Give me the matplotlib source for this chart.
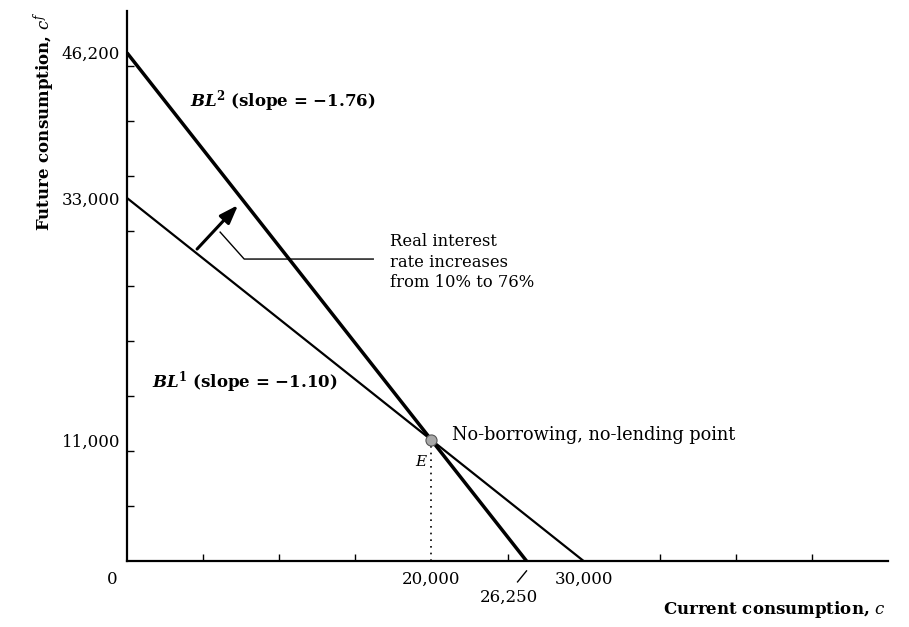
import matplotlib
matplotlib.use("Agg")
import matplotlib.pyplot as plt
import matplotlib.transforms as mtransforms

# ---- data ----
bl1_x = [0, 30000]
bl1_y = [33000, 0]
bl2_x = [0, 26250]
bl2_y = [46200, 0]
point_E = (20000, 11000)
ytick_vals = [0, 11000, 33000, 46200]
ytick_labels = ["0", "11,000", "33,000", "46,200"]
xtick_vals = [20000, 30000]
xtick_labels = ["20,000", "30,000"]
minor_ticks = list(range(5000, 50000, 5000))

plt.rcParams['font.family'] = ['DejaVu Serif']
plt.rcParams['mathtext.fontset'] = 'dejavuserif'

fig = plt.figure(figsize=(9.09, 6.27), dpi=100)
ax = fig.add_axes([127/909, 66/627, (888-127)/909, (561-11)/627])
ax.set_xlim(0, 50000)
ax.set_ylim(0, 50000)

for s in ['top', 'right']:
    ax.spines[s].set_visible(False)
for s in ['left', 'bottom']:
    ax.spines[s].set_linewidth(1.6)

ax.plot(bl1_x, bl1_y, color='black', lw=1.6, solid_capstyle='butt')
ax.plot(bl2_x, bl2_y, color='black', lw=2.5, solid_capstyle='butt')
ax.plot([point_E[0], point_E[0]], [0, point_E[1]], color='black', lw=1.2,
        linestyle=(0, (1, 3)))
ax.plot([point_E[0]], [point_E[1]], marker='o', markersize=8,
        markerfacecolor='#a8a8a8', markeredgecolor='#555555', markeredgewidth=0.8, zorder=5)

# ticks
ax.set_yticks(ytick_vals)
ax.set_yticklabels(ytick_labels, fontsize=12)
ax.set_xticks(xtick_vals)
ax.set_xticklabels(xtick_labels, fontsize=12)
ax.tick_params(axis='both', which='major', length=0, pad=7)
ax.tick_params(axis='y', which='major', pad=5)
ax.set_xticks(minor_ticks, minor=True)
ax.set_yticks(minor_ticks, minor=True)
ax.tick_params(axis='both', which='minor', direction='in', length=5, width=1)
for lab in ax.get_yticklabels():
    if lab.get_text() == "0":
        lab.set_transform(lab.get_transform() + mtransforms.ScaledTranslation(-3/100, -16/100, fig.dpi_scale_trans))

# 26,250 label with slash
ax.text(25070, -3300, "26,250", fontsize=12, ha='center', va='center', clip_on=False)
ax.plot([25660, 26250], [-1900, -900], color='black', lw=1, clip_on=False)

# axis labels
fig.text(886/909, 1 - 610/627, r"Current consumption, $\mathit{c}$", fontsize=12,
         fontweight='bold', ha='right', va='center')
fig.text(44/909, 1 - 121/627, r"Future consumption, $\mathit{c^f}$", fontsize=12,
         fontweight='bold', ha='center', va='center', rotation=90)

# line labels
ax.text(4140, 41800, r"$\mathbfit{BL}^{\mathbf{2}}$" + " (slope = \u22121.76)", fontsize=12,
        fontweight='bold', ha='left', va='center')
ax.text(1650, 16270, r"$\mathbfit{BL}^{\mathbf{1}}$" + " (slope = \u22121.10)", fontsize=12,
        fontweight='bold', ha='left', va='center')

# arrow
ax.annotate("", xy=(7300, 32360), xytext=(4605, 28360),
            arrowprops=dict(arrowstyle='-|>,head_length=0.7,head_width=0.25', color='black', lw=2.2,
                            mutation_scale=16, shrinkA=0, shrinkB=0))
# leader line
ax.plot([6120, 7700, 16180], [29900, 27450, 27450], color='black', lw=1)
ax.text(17300, 27180, "Real interest\nrate increases\nfrom 10% to 76%", fontsize=11.8,
        ha='left', va='center', linespacing=1.3)

ax.text(21380, 11450, "No-borrowing, no-lending point", fontsize=12.8,
        ha='left', va='center')
ax.text(19280, 9000, "E", fontsize=11, style='italic', ha='center', va='center')

fig.savefig("out.png", dpi=100)
